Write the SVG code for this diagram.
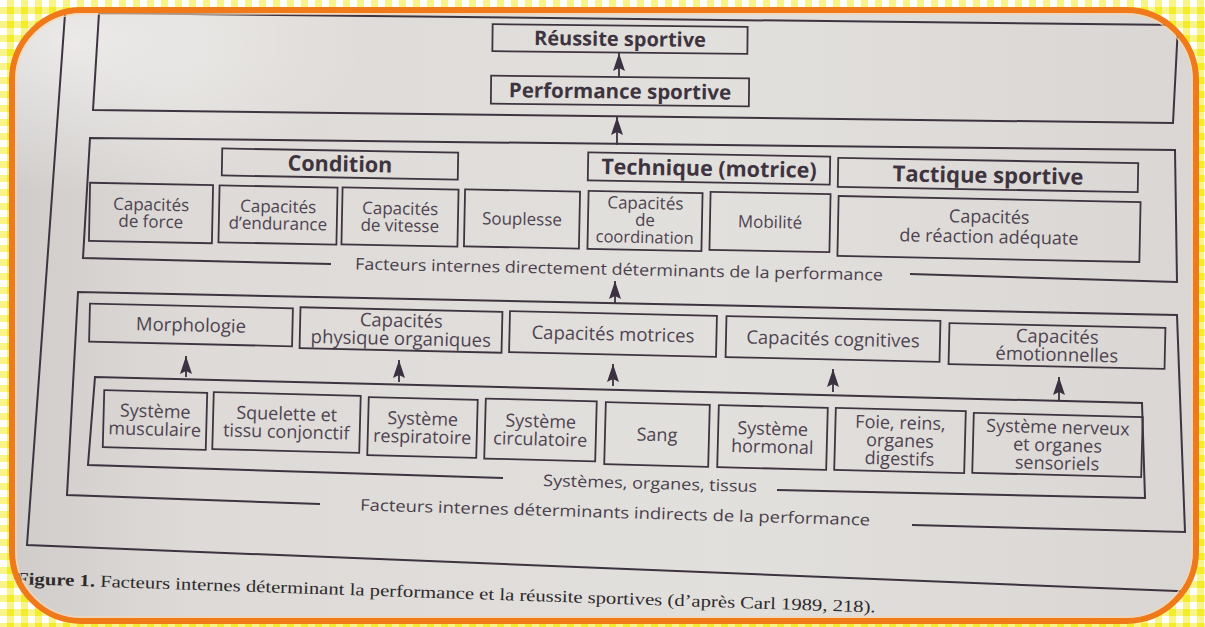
<svg xmlns="http://www.w3.org/2000/svg" width="1205" height="627" viewBox="0 0 1205 627">
<defs>
<pattern id="ging" width="14" height="14" patternUnits="userSpaceOnUse">
<rect width="14" height="14" fill="#f3ec2c"/>
<rect x="0" y="0" width="7" height="14" fill="#f8f48a"/>
<rect x="0" y="0" width="14" height="7" fill="#f8f48a"/>
<rect x="0" y="0" width="7" height="7" fill="#ffffff"/>
</pattern>
<linearGradient id="paper" x1="0" y1="0" x2="1" y2="0">
<stop offset="0" stop-color="#cfccca"/>
<stop offset="0.15" stop-color="#dddad7"/>
<stop offset="0.6" stop-color="#e2e0dd"/>
<stop offset="1" stop-color="#d9d6d3"/>
</linearGradient>
<radialGradient id="gloss" cx="0.05" cy="0.05" r="0.25">
<stop offset="0" stop-color="#ffffff" stop-opacity="0.55"/>
<stop offset="1" stop-color="#ffffff" stop-opacity="0"/>
</radialGradient>
<clipPath id="clip"><rect x="12" y="10" width="1184" height="611" rx="70" ry="70"/></clipPath>
<marker id="ah" viewBox="0 0 18 12" refX="18" refY="6" markerWidth="18" markerHeight="12" markerUnits="userSpaceOnUse" orient="auto">
<path d="M0,0 L18,6 L0,12 L3,6 Z" fill="#3b3140"/>
</marker>
<style>
.box{fill:none;stroke:#3e3440;stroke-width:1.8}
.fr{fill:none;stroke:#3e3440;stroke-width:2}
.t{font-family:"Open Sans","Lato",sans-serif;font-size:17px;fill:#4e4350;text-anchor:middle}
.m{font-size:18.5px}
.s{font-size:18px}
.h{font-weight:700;fill:#3e3440}
.lb{font-family:"Open Sans","Lato",sans-serif;font-size:16px;fill:#4a3f4c}
.cap{font-family:"Liberation Serif","Times New Roman",serif;font-size:17px;fill:#2e2a2c}
.arr{stroke:#3b3140;stroke-width:1.8;fill:none;marker-end:url(#ah)}
</style>
</defs>

<rect width="1205" height="627" fill="url(#ging)"/>
<rect x="12" y="10" width="1184" height="611" rx="70" ry="70" fill="url(#paper)"/>
<rect x="12" y="10" width="1184" height="611" rx="70" ry="70" fill="url(#gloss)"/>

<g clip-path="url(#clip)">
<!-- outer page frame -->
<path class="fr" d="M66,0 L27,545 L1200,592"/>

<!-- frames -->
<g id="frame-top">
<polygon class="fr" points="99,13 1178,25 1173,123 93,110"/>
</g>
<g id="frame-direct">
<path class="fr" d="M331,264 L83,258 L90,138 L1175,150 L1177,282 L910,274"/>
<text class="lb" x="619" y="275" text-anchor="middle" textLength="528" lengthAdjust="spacingAndGlyphs" transform="rotate(1.2 619 275)">Facteurs internes directement déterminants de la performance</text>
</g>
<g id="frame-indirect">
<path class="fr" d="M320,504 L67,495 L78,292 L1177,315 L1185,532 L912,525"/>
<text class="lb" x="615" y="518" text-anchor="middle" textLength="510" lengthAdjust="spacingAndGlyphs" transform="rotate(1.7 615 518)">Facteurs internes déterminants indirects de la performance</text>
</g>
<g id="frame-systems">
<path class="fr" d="M503,478 L88,465 L95,377 L1142,403 L1145,498 L777,490"/>
<text class="lb" x="650" y="489" text-anchor="middle" textLength="214" lengthAdjust="spacingAndGlyphs" transform="rotate(1.6 650 489)">Systèmes, organes, tissus</text>
</g>

<!-- top -->
<g id="n-reussite" transform="rotate(0.6 620 39)">
<rect class="box" x="492.5" y="25.5" width="255" height="27"/>
<text class="t h" x="620" y="46" style="font-size:20px">Réussite sportive</text>
</g>
<g id="n-performance" transform="rotate(0.6 620 91)">
<rect class="box" x="491" y="77" width="258" height="28"/>
<text class="t h" x="620" y="98.5" style="font-size:20.5px">Performance sportive</text>
</g>

<!-- headers -->
<g id="n-condition" transform="rotate(1 340 164)">
<rect class="box" x="222" y="150.5" width="236" height="27"/>
<text class="t h" x="340" y="171.5" style="font-size:21.5px">Condition</text>
</g>
<g id="n-technique" transform="rotate(1 709 168.5)">
<rect class="box" x="588" y="154.5" width="242" height="28"/>
<text class="t h" x="709" y="176" style="font-size:21.5px">Technique (motrice)</text>
</g>
<g id="n-tactique" transform="rotate(1 988 175)">
<rect class="box" x="838" y="160.5" width="300" height="29"/>
<text class="t h" x="988" y="183" style="font-size:22px">Tactique sportive</text>
</g>

<!-- direct items -->
<g id="n-force" transform="rotate(1.15 151 213)">
<rect class="box" x="89.5" y="184" width="123" height="58"/>
<text class="t" x="151" y="210.5">Capacités</text>
<text class="t" x="151" y="227.5">de force</text>
</g>
<g id="n-endurance" transform="rotate(1.15 278 215)">
<rect class="box" x="219" y="186.5" width="118" height="57"/>
<text class="t" x="278" y="212.5">Capacités</text>
<text class="t" x="278" y="229.5">d’endurance</text>
</g>
<g id="n-vitesse" transform="rotate(1.15 400 217)">
<rect class="box" x="342" y="188.5" width="116" height="57"/>
<text class="t" x="400" y="214.5">Capacités</text>
<text class="t" x="400" y="231.5">de vitesse</text>
</g>
<g id="n-souplesse" transform="rotate(1.15 522 219)">
<rect class="box" x="464.5" y="190.5" width="115" height="57"/>
<text class="t" x="522" y="225">Souplesse</text>
</g>
<g id="n-coordination" transform="rotate(1.15 645 221)">
<rect class="box" x="588" y="192" width="114" height="58"/>
<text class="t" x="645" y="209">Capacités</text>
<text class="t" x="645" y="226">de</text>
<text class="t" x="645" y="243" style="font-size:16.5px">coordination</text>
</g>
<g id="n-mobilite" transform="rotate(1.15 770 222)">
<rect class="box" x="710" y="193" width="120" height="58"/>
<text class="t" x="770" y="228">Mobilité</text>
</g>
<g id="n-reaction" transform="rotate(1.15 989 229)">
<rect class="box" x="838" y="199" width="302" height="60"/>
<text class="t s" x="989" y="223">Capacités</text>
<text class="t s" x="989" y="243">de réaction adéquate</text>
</g>

<!-- indirect capacities -->
<g id="n-morphologie" transform="rotate(1.3 191 325)">
<rect class="box" x="89.5" y="306" width="203" height="38"/>
<text class="t m" x="191" y="331.5">Morphologie</text>
</g>
<g id="n-physique" transform="rotate(1.3 401 330)">
<rect class="box" x="300" y="309.5" width="202" height="41"/>
<text class="t m" x="401" y="327">Capacités</text>
<text class="t m" x="401" y="345">physique organiques</text>
</g>
<g id="n-motrices" transform="rotate(1.3 613 334)">
<rect class="box" x="509.5" y="313.5" width="207" height="41"/>
<text class="t m" x="613" y="340.5">Capacités motrices</text>
</g>
<g id="n-cognitives" transform="rotate(1.3 833 339)">
<rect class="box" x="726" y="318.5" width="214" height="41"/>
<text class="t m" x="833" y="345.5">Capacités cognitives</text>
</g>
<g id="n-emotionnelles" transform="rotate(1.3 1057 346)">
<rect class="box" x="949" y="325.5" width="216" height="41"/>
<text class="t m" x="1057" y="343">Capacités</text>
<text class="t m" x="1057" y="361">émotionnelles</text>
</g>

<!-- systems -->
<g id="n-musculaire" transform="rotate(1.5 155 420)">
<rect class="box" x="103.5" y="391.5" width="103" height="57"/>
<text class="t s" x="155" y="417.5">Système</text>
<text class="t s" x="155" y="435.5">musculaire</text>
</g>
<g id="n-squelette" transform="rotate(1.5 286.5 422.5)">
<rect class="box" x="213" y="394" width="147" height="57"/>
<text class="t s" x="286.5" y="420">Squelette et</text>
<text class="t s" x="286.5" y="438">tissu conjonctif</text>
</g>
<g id="n-respiratoire" transform="rotate(1.5 422.5 427.5)">
<rect class="box" x="368" y="398.5" width="109" height="58"/>
<text class="t s" x="422.5" y="425">Système</text>
<text class="t s" x="422.5" y="443">respiratoire</text>
</g>
<g id="n-circulatoire" transform="rotate(1.5 540.5 430)">
<rect class="box" x="485" y="400" width="111" height="60"/>
<text class="t s" x="540.5" y="427.5">Système</text>
<text class="t s" x="540.5" y="445.5">circulatoire</text>
</g>
<g id="n-sang" transform="rotate(1.5 657 434.5)">
<rect class="box" x="605" y="403.5" width="104" height="62"/>
<text class="t s" x="657" y="441">Sang</text>
</g>
<g id="n-hormonal" transform="rotate(1.5 772.5 437.5)">
<rect class="box" x="718" y="406.5" width="109" height="62"/>
<text class="t s" x="772.5" y="435">Système</text>
<text class="t s" x="772.5" y="453">hormonal</text>
</g>
<g id="n-foie" transform="rotate(1.5 900 440.5)">
<rect class="box" x="835" y="409.5" width="130" height="62"/>
<text class="t s" x="900" y="429">Foie, reins,</text>
<text class="t s" x="900" y="447">organes</text>
<text class="t s" x="900" y="465">digestifs</text>
</g>
<g id="n-nerveux" transform="rotate(1.5 1057.5 445)">
<rect class="box" x="973" y="415" width="169" height="60"/>
<text class="t s" x="1057.5" y="433.5">Système nerveux</text>
<text class="t s" x="1057.5" y="451.5">et organes</text>
<text class="t s" x="1057.5" y="469.5">sensoriels</text>
</g>

<!-- connectors -->
<g id="connectors">
<line class="arr" x1="619" y1="77" x2="619" y2="53"/>
<line class="arr" x1="617" y1="145" x2="617" y2="117"/>
<line class="arr" x1="615" y1="303" x2="615" y2="281"/>
<line class="arr" x1="186" y1="377" x2="186" y2="356"/>
<line class="arr" x1="399" y1="382" x2="399" y2="360"/>
<line class="arr" x1="613" y1="386" x2="613" y2="364"/>
<line class="arr" x1="833" y1="392" x2="833" y2="369"/>
<line class="arr" x1="1059" y1="401" x2="1059" y2="377"/>
</g>

<!-- caption -->
<text class="cap" x="16" y="584" textLength="860" lengthAdjust="spacingAndGlyphs" transform="rotate(1.9 16 584)"><tspan font-weight="700">Figure 1.</tspan> Facteurs internes déterminant la performance et la réussite sportives (d’après Carl 1989, 218).</text>
</g>

<rect x="12" y="10" width="1184" height="611" rx="70" ry="70" fill="none" stroke="#f07a1a" stroke-width="6"/>
<rect x="16" y="14" width="1176" height="603" rx="66" ry="66" fill="none" stroke="#f8d6b0" stroke-width="1.5" opacity="0.8"/>
</svg>
